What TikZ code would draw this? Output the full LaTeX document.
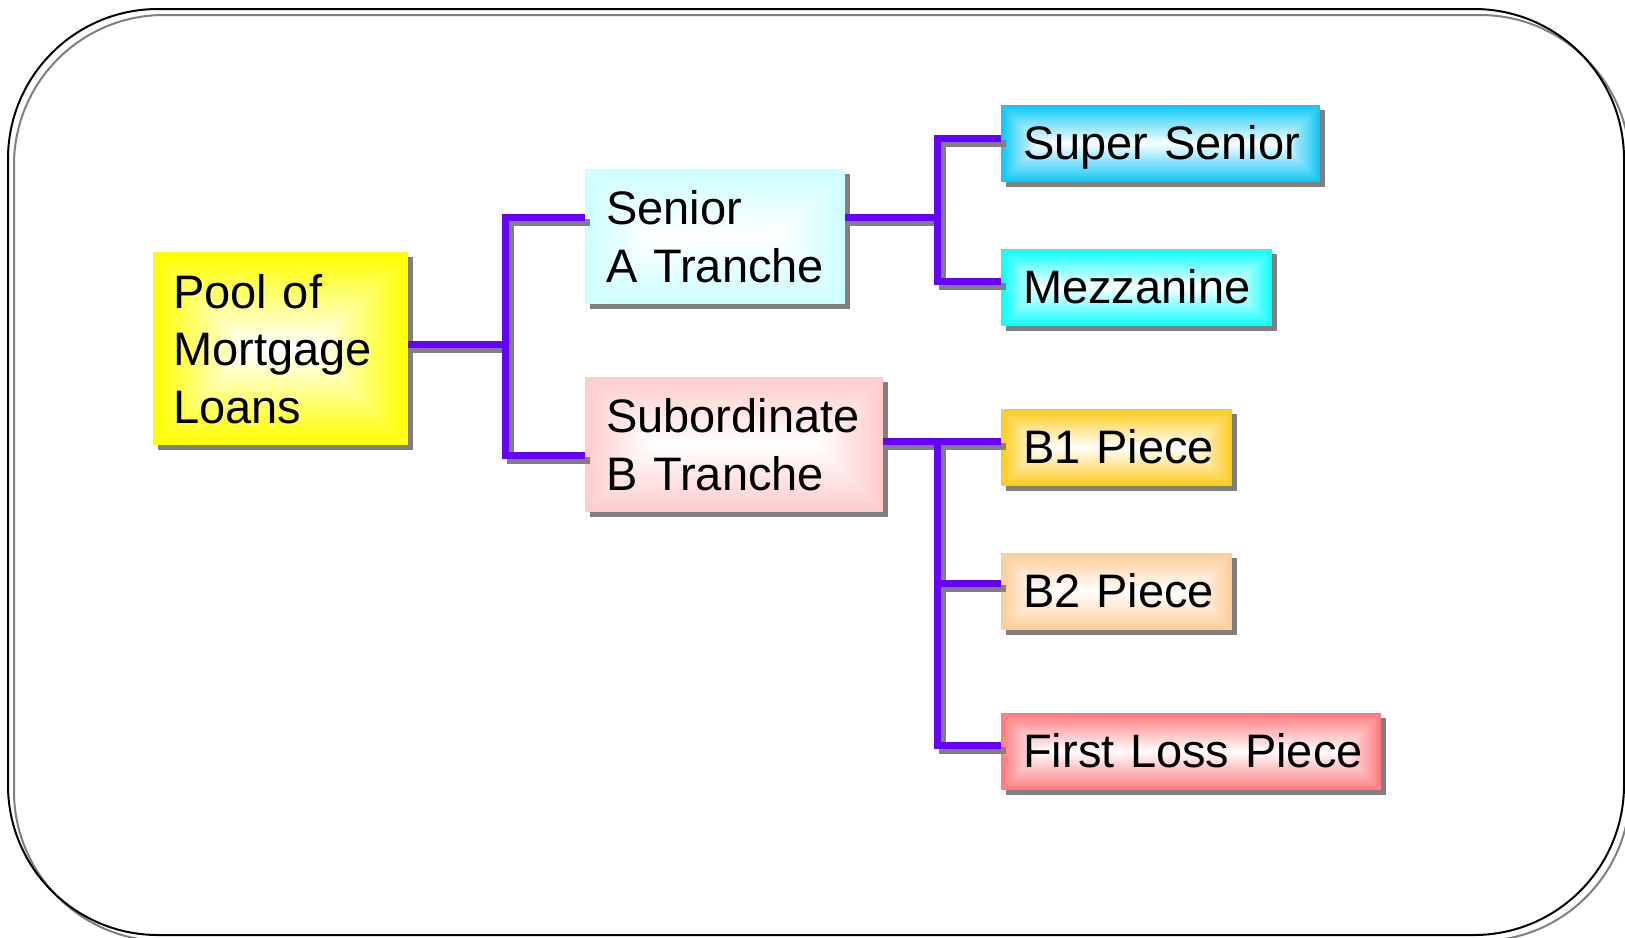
\documentclass[tikz,border=0pt]{standalone}
\usepackage{fontspec}
\setmainfont{Liberation Sans}
\usetikzlibrary{calc,backgrounds}
\definecolor{poolc}{HTML}{FFFF00}
\definecolor{senc}{HTML}{CCFFFF}
\definecolor{subc}{HTML}{FFCCCC}
\definecolor{supc}{HTML}{10C8F8}
\definecolor{mezc}{HTML}{10FFFF}
\definecolor{bonec}{HTML}{FCCC20}
\definecolor{btwoc}{HTML}{FFCC99}
\definecolor{lossc}{HTML}{FF7C80}
\definecolor{wirec}{HTML}{6600FF}
\definecolor{shadowc}{HTML}{808080}
\begin{document}
\begin{tikzpicture}[x=1pt,y=-1pt,
  tier/.style={anchor=north west, inner ysep=0pt, align=left,
    font=\fontsize{47pt}{57.5pt}\selectfont},
  glow/.style 2 args={fill=#1, path picture={
    \foreach \k [evaluate=\k as \pct using int(100-5*\k)] in {1,...,20}
      \fill[#1!\pct!white]
        ($(path picture bounding box.south west)+({\k*#2*1pt},{\k*#2*1pt})$)
        rectangle
        ($(path picture bounding box.north east)-({\k*#2*1pt},{\k*#2*1pt})$);}},
  oneline/.style={text height=34pt, text depth=2pt, inner xsep=22pt, minimum height=77pt, glow={#1}{1.9}},
  wire/.style={line width=7pt, draw=wirec, line join=miter},
  wireshadow/.style={line width=7pt, draw=shadowc, line join=miter,
    transform canvas={shift={(5pt,-5pt)}}},
]
\useasboundingbox (0,0) rectangle (1625,937);
\clip (0,0) rectangle (1625,937);

% outer frame with its shadow
\draw[shadowc, line width=2pt, rounded corners=150pt] (14,15) rectangle (1630,941);
\draw[black, line width=2pt, rounded corners=150pt] (8,9) rectangle (1624,935);

% tranche boxes
\node[tier, glow={poolc}{4.6}, inner xsep=20pt, text width=215pt, minimum height=193pt]
  (pool) at (153,252) {Pool of\\Mortgage\\Loans};
\node[tier, glow={senc}{3.3}, inner xsep=21pt, text width=218pt, minimum height=135pt]
  (senA) at (585,169) {Senior\\A Tranche};
\node[tier, glow={subc}{3.3}, inner xsep=21pt, text width=256pt, minimum height=135pt]
  (subB) at (585,377) {Subordinate\\B Tranche};
\node[tier, oneline=supc, text width=275pt] (super) at (1001,105) {\mbox{Super Senior}};
\node[tier, oneline=mezc, text width=227pt] (mezz) at (1001,249) {\mbox{Mezzanine}};
\node[tier, oneline=bonec, text width=187pt] (bone) at (1001,409) {\mbox{B1 Piece}};
\node[tier, oneline=btwoc, text width=187pt] (btwo) at (1001,553) {\mbox{B2 Piece}};
\node[tier, oneline=lossc, text width=336pt] (loss) at (1001,713) {\mbox{First Loss Piece}};

% box shadows
\begin{pgfonlayer}{background}
  \foreach \n in {pool,senA,subB,super,mezz,bone,btwo,loss}
    \fill[shadowc] ([shift={(5pt,-5pt)}]\n.south west) rectangle ([shift={(5pt,-5pt)}]\n.north east);
\end{pgfonlayer}

% fork points of the connectors
\coordinate (p1) at (505,344);
\coordinate (p2) at (505,217);
\coordinate (p3) at (505,455);
\coordinate (s1) at (937,217);
\coordinate (s2) at (937,138);
\coordinate (s3) at (937,281);
\coordinate (b1) at (937,441);
\coordinate (b2) at (937,583);
\coordinate (b3) at (937,745);

% connectors: shadow first, then the line
\foreach \st in {wireshadow,wire}{
  \draw[\st] (pool.east |- p1) -- (p1);
  \draw[\st] (senA.west |- p2) -- (p2) -- (p3) -- (subB.west |- p3);
  \draw[\st] (senA.east |- s1) -- (s1);
  \draw[\st] (super.west |- s2) -- (s2) -- (s3) -- (mezz.west |- s3);
  \draw[\st] (subB.east |- b1) -- (bone.west |- b1);
  \draw[\st] (b1) -- (b3) -- (loss.west |- b3);
  \draw[\st] (b2) -- (btwo.west |- b2);
}
\end{tikzpicture}
\end{document}
